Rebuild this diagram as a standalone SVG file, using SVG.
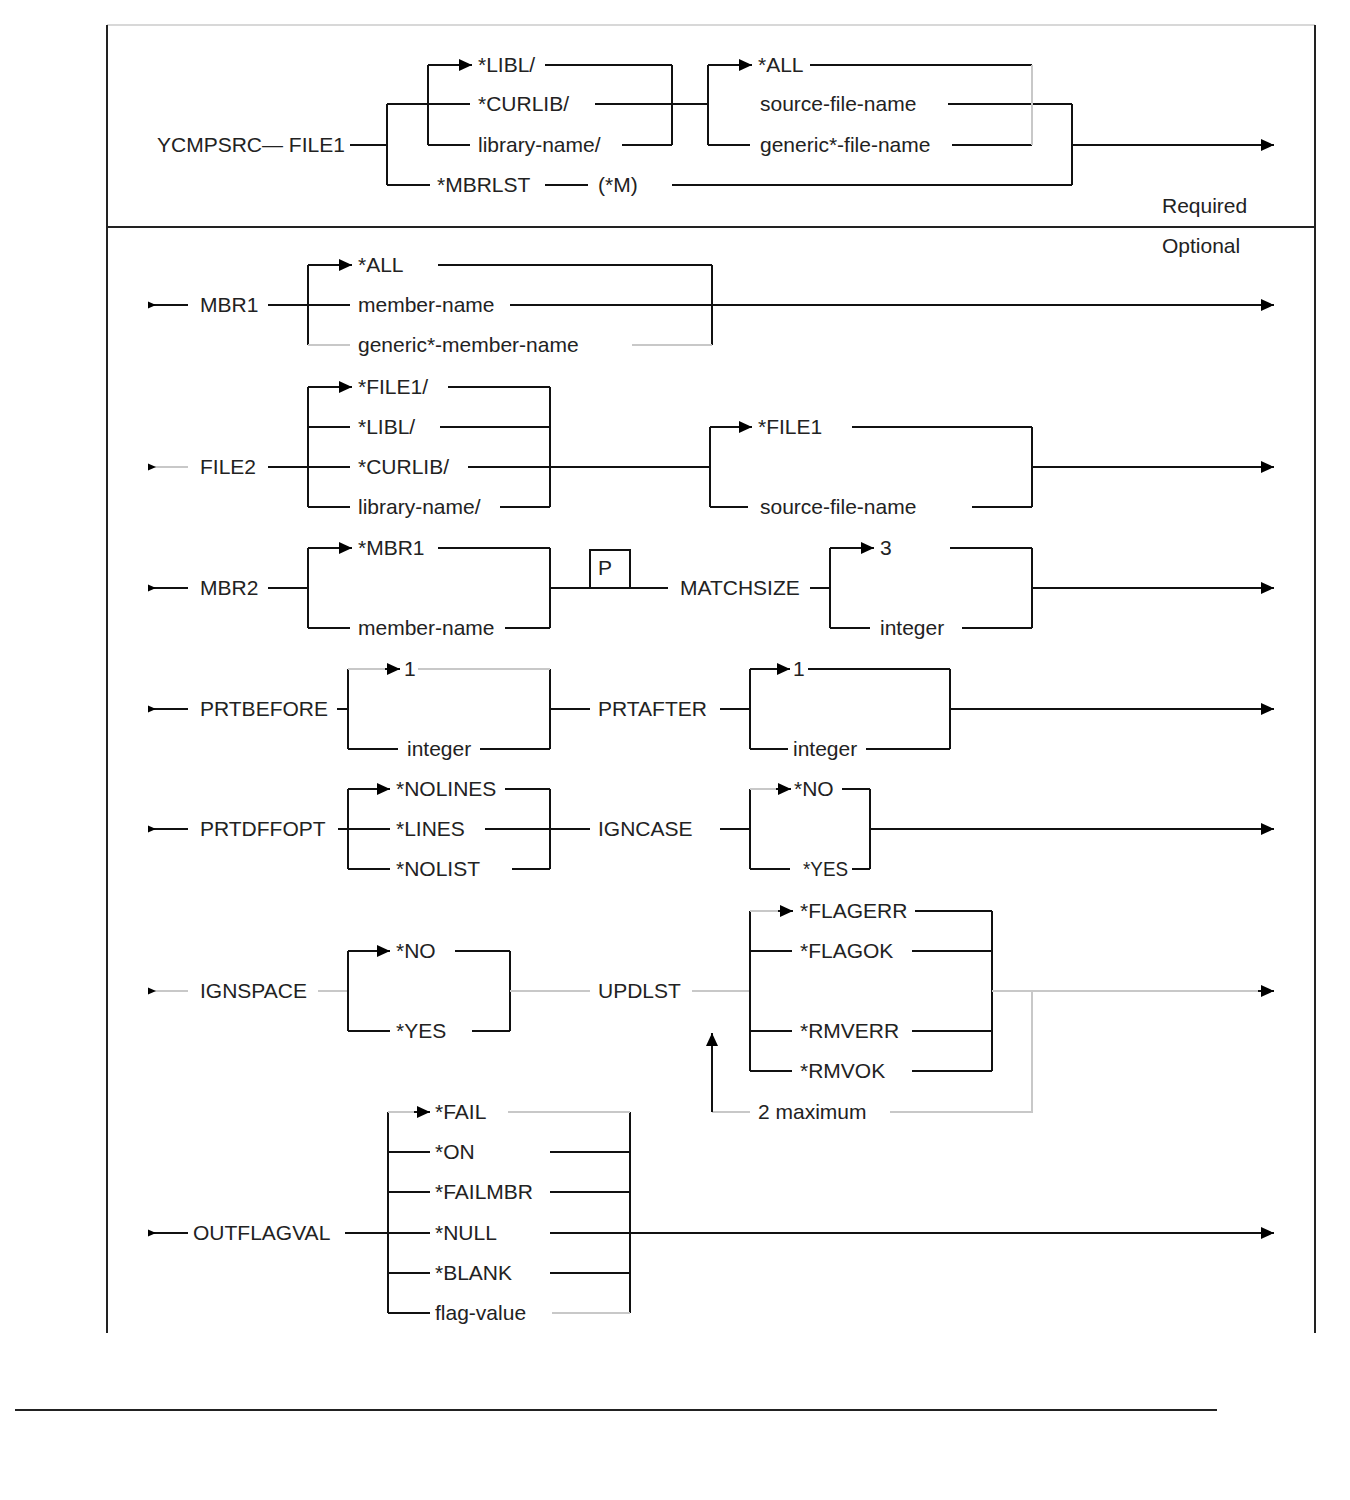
<svg xmlns="http://www.w3.org/2000/svg" width="1350" height="1500" viewBox="0 0 1350 1500">
<style>
text{font-family:"Liberation Sans",Arial,sans-serif;font-size:21px;fill:#222}
.c path,.c line{stroke:#111;stroke-width:2;fill:none}
.c .g{stroke:#c8c8c8}
.f line{stroke:#222;stroke-width:2}
</style>
<defs>
<marker id="a" markerUnits="userSpaceOnUse" markerWidth="14" markerHeight="14" refX="13" refY="7" orient="auto"><path d="M0,1 L13,7 L0,13 z" fill="#000"/></marker>
<marker id="s" markerUnits="userSpaceOnUse" markerWidth="9" markerHeight="9" refX="0" refY="4.5" orient="auto"><path d="M0,1 L8,4.5 L0,8 z" fill="#000"/></marker>
</defs>
<rect width="1350" height="1500" fill="#fff"/>
<g id="frame" class="f">
<line x1="107" y1="25" x2="1315" y2="25" style="stroke:#d8d8d8"/>
<line x1="107" y1="25" x2="107" y2="1333"/>
<line x1="1315" y1="25" x2="1315" y2="1333"/>
<line x1="107" y1="227" x2="1315" y2="227"/>
<line x1="15" y1="1410" x2="1217" y2="1410"/>
</g>
<g id="connectors" class="c">
<!-- row 0 -->
<path d="M350,145 H387 M387,104 V185"/>
<path d="M428,65 V145 M672,65 V145"/>
<path d="M428,65 H472" marker-end="url(#a)"/>
<path d="M545,65 H672 M428,145 H470 M622,145 H672"/>
<path d="M387,104 H470 M595,104 H708"/>
<path d="M708,65 V145"/>
<path d="M708,65 H752" marker-end="url(#a)"/>
<path d="M810,65 H1032 M948,104 H1072 M708,145 H750 M952,145 H1032"/>
<path class="g" d="M1032,65 V145"/>
<path d="M1072,104 V185 M387,185 H430 M545,185 H588 M672,185 H1072"/>
<path d="M1072,145 H1274" marker-end="url(#a)"/>
<!-- MBR1 -->
<path d="M148,305 H188" marker-start="url(#s)"/>
<path d="M268,305 H350 M308,265 V345 M712,265 V345 M438,265 H712"/>
<path d="M308,265 H352" marker-end="url(#a)"/>
<path d="M510,305 H1274" marker-end="url(#a)"/>
<path class="g" d="M308,345 H350 M632,345 H712"/>
<!-- FILE2 -->
<path class="g" d="M148,467 H188" marker-start="url(#s)"/>
<path d="M268,467 H350 M308,387 V507 M550,387 V507"/>
<path d="M308,387 H352" marker-end="url(#a)"/>
<path d="M448,387 H550 M308,427 H350 M440,427 H550 M468,467 H710 M308,507 H350 M500,507 H550"/>
<path d="M710,427 V507 M1032,427 V507"/>
<path d="M710,427 H752" marker-end="url(#a)"/>
<path d="M852,427 H1032 M710,507 H748 M972,507 H1032"/>
<path d="M1032,467 H1274" marker-end="url(#a)"/>
<!-- MBR2 -->
<path d="M148,588 H188" marker-start="url(#s)"/>
<path d="M268,588 H308 M308,548 V628 M550,548 V628"/>
<path d="M308,548 H352" marker-end="url(#a)"/>
<path d="M438,548 H550 M308,628 H350 M505,628 H550 M550,588 H668"/>
<path d="M590,588 V550 H630 V588"/>
<path d="M810,588 H830 M830,548 V628 M1032,548 V628"/>
<path d="M830,548 H874" marker-end="url(#a)"/>
<path d="M950,548 H1032 M830,628 H870 M962,628 H1032"/>
<path d="M1032,588 H1274" marker-end="url(#a)"/>
<!-- PRTBEFORE -->
<path d="M148,709 H188" marker-start="url(#s)"/>
<path d="M337,709 H348 M348,669 V749 M550,669 V749"/>
<path class="g" d="M348,669 H390 M418,669 H550"/>
<path d="M385,669 H400" marker-end="url(#a)"/>
<path d="M348,749 H398 M480,749 H550 M550,709 H590 M720,709 H750 M750,669 V749 M950,669 V749"/>
<path d="M750,669 H790" marker-end="url(#a)"/>
<path d="M808,669 H950 M750,749 H788 M866,749 H950"/>
<path d="M950,709 H1274" marker-end="url(#a)"/>
<!-- PRTDFFOPT -->
<path d="M148,829 H188" marker-start="url(#s)"/>
<path d="M338,829 H390 M348,789 V869 M550,789 V869"/>
<path d="M348,789 H390" marker-end="url(#a)"/>
<path d="M505,789 H550 M485,829 H590 M348,869 H390 M512,869 H550"/>
<path d="M720,829 H750 M750,789 V869 M870,789 V869"/>
<path class="g" d="M750,789 H778"/>
<path d="M776,789 H791" marker-end="url(#a)"/>
<path d="M842,789 H870 M750,869 H790 M852,869 H870"/>
<path d="M870,829 H1274" marker-end="url(#a)"/>
<!-- IGNSPACE / UPDLST -->
<path class="g" d="M148,991 H188" marker-start="url(#s)"/>
<path class="g" d="M318,991 H348"/>
<path d="M348,951 V1031 M510,951 V1031"/>
<path d="M348,951 H390" marker-end="url(#a)"/>
<path d="M455,951 H510 M348,1031 H390 M472,1031 H510"/>
<path class="g" d="M510,991 H590 M692,991 H750"/>
<path d="M750,911 V1071 M992,911 V1071"/>
<path class="g" d="M750,911 H782"/>
<path d="M778,911 H793" marker-end="url(#a)"/>
<path d="M915,911 H992 M750,951 H792 M912,951 H992 M750,1031 H792 M912,1031 H992 M750,1071 H792 M912,1071 H992"/>
<path class="g" d="M992,991 H1262 M1032,991 V1112 H890 M750,1112 H712"/>
<path d="M1258,991 H1274" marker-end="url(#a)"/>
<path d="M712,1112 V1033" marker-end="url(#a)"/>
<!-- OUTFLAGVAL -->
<path d="M148,1233 H188" marker-start="url(#s)"/>
<path d="M345,1233 H430 M388,1112 V1313 M630,1112 V1313"/>
<path class="g" d="M388,1112 H416"/>
<path d="M414,1112 H430" marker-end="url(#a)"/>
<path class="g" d="M508,1112 H630 M552,1313 H630"/>
<path d="M388,1152 H430 M550,1152 H630 M388,1192 H430 M550,1192 H630 M388,1273 H430 M550,1273 H630 M388,1313 H430"/>
<path d="M550,1233 H1274" marker-end="url(#a)"/>
</g>
<g id="n-ycmpsrc"><text x="157" y="152">YCMPSRC— FILE1</text></g>
<g id="n-libl1"><text x="478" y="72">*LIBL/</text></g>
<g id="n-curlib1"><text x="478" y="111">*CURLIB/</text></g>
<g id="n-libname1"><text x="478" y="152">library-name/</text></g>
<g id="n-mbrlst"><text x="437" y="192">*MBRLST</text></g>
<g id="n-m"><text x="598" y="192">(*M)</text></g>
<g id="n-all1"><text x="758" y="72">*ALL</text></g>
<g id="n-srcfile1"><text x="760" y="111">source-file-name</text></g>
<g id="n-genfile"><text x="760" y="152">generic*-file-name</text></g>
<g id="n-required"><text x="1162" y="213">Required</text></g>
<g id="n-optional"><text x="1162" y="253">Optional</text></g>
<g id="n-mbr1"><text x="200" y="312">MBR1</text></g>
<g id="n-all2"><text x="358" y="272">*ALL</text></g>
<g id="n-membername1"><text x="358" y="312">member-name</text></g>
<g id="n-genmember"><text x="358" y="352">generic*-member-name</text></g>
<g id="n-file2"><text x="200" y="474">FILE2</text></g>
<g id="n-file1slash"><text x="358" y="394">*FILE1/</text></g>
<g id="n-libl2"><text x="358" y="434">*LIBL/</text></g>
<g id="n-curlib2"><text x="358" y="474">*CURLIB/</text></g>
<g id="n-libname2"><text x="358" y="514">library-name/</text></g>
<g id="n-file1b"><text x="758" y="434">*FILE1</text></g>
<g id="n-srcfile2"><text x="760" y="514">source-file-name</text></g>
<g id="n-mbr2"><text x="200" y="595">MBR2</text></g>
<g id="n-mbr1b"><text x="358" y="555">*MBR1</text></g>
<g id="n-membername2"><text x="358" y="635">member-name</text></g>
<g id="n-p"><text x="598" y="575">P</text></g>
<g id="n-matchsize"><text x="680" y="595">MATCHSIZE</text></g>
<g id="n-3"><text x="880" y="555">3</text></g>
<g id="n-integer1"><text x="880" y="635">integer</text></g>
<g id="n-prtbefore"><text x="200" y="716">PRTBEFORE</text></g>
<g id="n-1a"><text x="404" y="676">1</text></g>
<g id="n-integer2"><text x="407" y="756">integer</text></g>
<g id="n-prtafter"><text x="598" y="716">PRTAFTER</text></g>
<g id="n-1b"><text x="793" y="676">1</text></g>
<g id="n-integer3"><text x="793" y="756">integer</text></g>
<g id="n-prtdffopt"><text x="200" y="836">PRTDFFOPT</text></g>
<g id="n-nolines"><text x="396" y="796">*NOLINES</text></g>
<g id="n-lines"><text x="396" y="836">*LINES</text></g>
<g id="n-nolist"><text x="396" y="876">*NOLIST</text></g>
<g id="n-igncase"><text x="598" y="836">IGNCASE</text></g>
<g id="n-no1"><text x="794" y="796">*NO</text></g>
<g id="n-yes1"><text x="803" y="876" textLength="45" lengthAdjust="spacingAndGlyphs">*YES</text></g>
<g id="n-ignspace"><text x="200" y="998">IGNSPACE</text></g>
<g id="n-no2"><text x="396" y="958">*NO</text></g>
<g id="n-yes2"><text x="396" y="1038">*YES</text></g>
<g id="n-updlst"><text x="598" y="998">UPDLST</text></g>
<g id="n-flagerr"><text x="800" y="918">*FLAGERR</text></g>
<g id="n-flagok"><text x="800" y="958">*FLAGOK</text></g>
<g id="n-rmverr"><text x="800" y="1038">*RMVERR</text></g>
<g id="n-rmvok"><text x="800" y="1078">*RMVOK</text></g>
<g id="n-2max"><text x="758" y="1119">2 maximum</text></g>
<g id="n-outflagval"><text x="193" y="1240">OUTFLAGVAL</text></g>
<g id="n-fail"><text x="435" y="1119">*FAIL</text></g>
<g id="n-on"><text x="435" y="1159">*ON</text></g>
<g id="n-failmbr"><text x="435" y="1199">*FAILMBR</text></g>
<g id="n-null"><text x="435" y="1240">*NULL</text></g>
<g id="n-blank"><text x="435" y="1280">*BLANK</text></g>
<g id="n-flagvalue"><text x="435" y="1320">flag-value</text></g>
</svg>
